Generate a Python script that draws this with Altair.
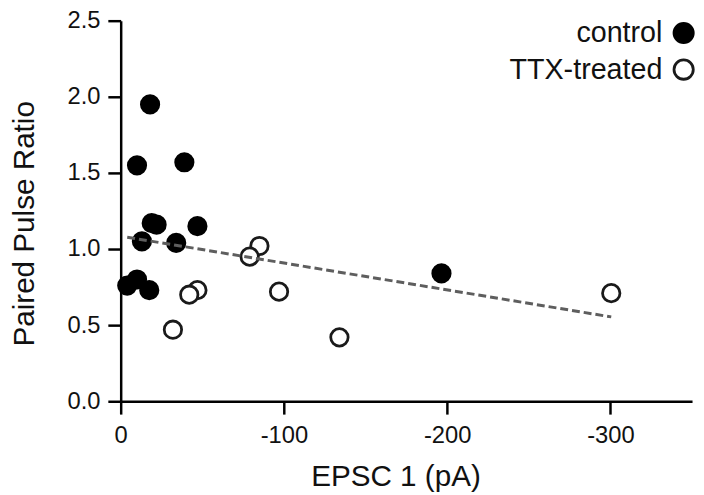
import altair as alt
import pandas as pd

# Control group (filled circles)
control_epsc = [-18, -10, -39, -19, -22, -47, -13, -34, -10, -4, -17.5, -196.5]
control_ppr = [1.95, 1.55, 1.57, 1.17, 1.16, 1.15, 1.05, 1.04, 0.80, 0.76, 0.73, 0.84]

# TTX-treated group (open circles)
ttx_epsc = [-32, -47, -42, -85, -79, -97, -134, -300.5]
ttx_ppr = [0.47, 0.73, 0.70, 1.02, 0.95, 0.72, 0.42, 0.71]

groups = ["control", "TTX-treated"]
x_ticks = [0, -100, -200, -300]
y_ticks = [0.0, 0.5, 1.0, 1.5, 2.0, 2.5]

rows = []
for i, (x, y) in enumerate(zip(control_epsc, control_ppr)):
    rows.append({"epsc": x, "ppr": y, "group": groups[0], "order": i})
for j, (x, y) in enumerate(zip(ttx_epsc, ttx_ppr)):
    rows.append({"epsc": x, "ppr": y, "group": groups[1], "order": 100 + j})
df = pd.DataFrame(rows)

FONT = "Liberation Sans"
TXT = "#111111"

x_enc = alt.X(
    "epsc:Q",
    scale=alt.Scale(domain=[-350, 0], reverse=True, nice=False, zero=False),
    axis=alt.Axis(
        values=x_ticks,
        labelExpr="datum.value == 0 ? '0' : '-' + abs(datum.value)",
        labelFlush=False,
        title="EPSC 1 (pA)",
        titleX=278,
    ),
)
y_enc = alt.Y(
    "ppr:Q",
    scale=alt.Scale(domain=[0, 2.5], nice=False),
    axis=alt.Axis(
        values=y_ticks, format=".1f", labelFlush=False,
        title="Paired Pulse Ratio", titleY=205,
    ),
)

points = alt.Chart(df).mark_point(
    filled=True, size=310, strokeWidth=2.8, opacity=1, shape="circle"
).encode(
    x=x_enc,
    y=y_enc,
    fill=alt.Fill(
        "group:N",
        scale=alt.Scale(domain=groups, range=["#000000", "#ffffff"]),
        title=None,
    ),
    stroke=alt.Stroke(
        "group:N",
        scale=alt.Scale(domain=groups, range=["#000000", "#1a1a1a"]),
        title=None,
    ),
    order=alt.Order("order:Q"),
)

line = alt.Chart(df).transform_regression("epsc", "ppr").mark_line(
    color="#5e5e5e", strokeWidth=3, strokeDash=[8, 4]
).encode(x=alt.X("epsc:Q"), y=alt.Y("ppr:Q"))

chart = (
    alt.layer(points, line)
    .properties(
        width=578,
        height=385,
        padding={"left": 114, "top": 10, "right": 4, "bottom": 92},
        autosize=alt.AutoSizeParams(type="none"),
    )
    .configure_view(stroke=None)
    .configure_axis(
        grid=False,
        domainColor="#000000",
        domainWidth=2.5,
        tickColor="#000000",
        tickWidth=2.5,
        tickSize=13,
        labelFont=FONT,
        labelFontSize=24,
        labelColor=TXT,
        titleFont=FONT,
        titleFontSize=30,
        titleFontWeight="normal",
        titleColor=TXT,
    )
    .configure_axisY(titlePadding=28, labelPadding=8)
    .configure_axisX(titlePadding=14, labelPadding=10)
    .configure_legend(
        orient="none",
        legendX=555,
        legendY=-2,
        labelFont=FONT,
        labelFontSize=29,
        labelColor=TXT,
        labelAlign="right",
        labelOffset={"expr": "-36"},
        symbolSize=380,
        symbolStrokeWidth=2.8,
        rowPadding=6,
        padding=0,
    )
)

chart.save("out.html", embed_options={"renderer": "svg", "actions": False})
